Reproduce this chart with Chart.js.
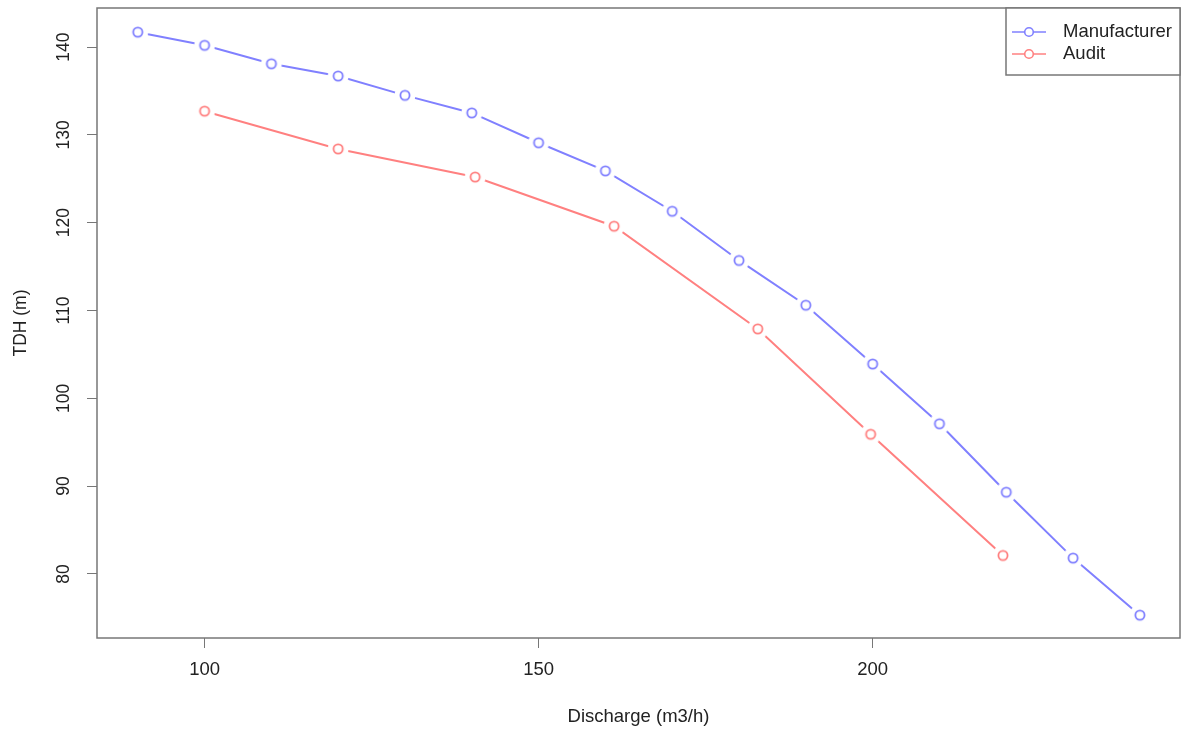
<!DOCTYPE html>
<html><head><meta charset="utf-8">
<script src="https://cdn.jsdelivr.net/npm/chart.js@4/dist/chart.umd.min.js"></script>
<style>html,body{margin:0;padding:0;background:#fff}#wrap{width:1182px;height:734px}</style>
</head><body><div id="wrap"><canvas id="c" width="1182" height="734"></canvas></div>
<script>
// ---- data ----
const manufacturerQ = [90, 100, 110, 120, 130, 140, 150, 160, 170, 180, 190, 200, 210, 220, 230, 240];
const manufacturerH = [141.7, 140.2, 138.1, 136.7, 134.5, 132.5, 129.1, 125.9, 121.3, 115.7, 110.6, 103.9, 97.1, 89.3, 81.8, 75.3];
const auditQ = [100, 120, 140.5, 161.3, 182.8, 199.7, 219.5];
const auditH = [132.7, 128.4, 125.2, 119.6, 107.9, 95.9, 82.1];
const seriesNames = ['Manufacturer', 'Audit'];
const xTicks = [100, 150, 200];
const yTicks = [80, 90, 100, 110, 120, 130, 140];
const xTitle = 'Discharge (m3/h)';
const yTitle = 'TDH (m)';

// ---- styles ----
const BLUE = '#8080ff';
const RED = '#ff8080';
const FONT = "'Liberation Sans', Arial, Helvetica, sans-serif";
const TXT = '#222';
const HSIZE = 18.5;
const VSIZE = 17.5;

function makeMarker(color) {
  const c = document.createElement('canvas');
  c.width = 26; c.height = 26;
  const g = c.getContext('2d');
  g.fillStyle = '#ffffff';
  g.beginPath(); g.arc(13, 13, 10.5, 0, Math.PI * 2); g.fill();
  g.strokeStyle = color; g.lineWidth = 1.8;
  g.beginPath(); g.arc(13, 13, 4.6, 0, Math.PI * 2); g.stroke();
  return c;
}

const toXY = (xs, ys) => xs.map((x, i) => ({ x: x, y: ys[i] }));

const boxPlugin = {
  id: 'plotBox',
  afterDraw(chart) {
    const { ctx, chartArea: a } = chart;
    ctx.save();
    ctx.strokeStyle = '#777';
    ctx.lineWidth = 1.5;
    ctx.strokeRect(a.left, a.top, a.right - a.left, a.bottom - a.top);
    // legend box (top-right inside the plot)
    const w = 174, h = 67;
    const L = a.right - w, T = a.top;
    ctx.fillStyle = '#fff';
    ctx.fillRect(L, T, w, h);
    ctx.strokeRect(L, T, w, h);
    const colors = [BLUE, RED];
    chart.data.datasets.forEach((ds, i) => {
      const y = T + 24 + i * 22;
      ctx.strokeStyle = colors[i];
      ctx.lineWidth = 1.6;
      ctx.beginPath(); ctx.moveTo(L + 6, y); ctx.lineTo(L + 40, y); ctx.stroke();
      ctx.fillStyle = '#fff';
      ctx.beginPath(); ctx.arc(L + 23, y, 4.3, 0, Math.PI * 2); ctx.fill(); ctx.stroke();
      ctx.fillStyle = TXT;
      ctx.font = HSIZE + 'px ' + FONT;
      ctx.textBaseline = 'middle';
      ctx.textAlign = 'left';
      ctx.fillText(ds.label, L + 57, y);
    });
    ctx.restore();
  }
};

new Chart(document.getElementById('c'), {
  type: 'line',
  data: {
    datasets: [
      { label: seriesNames[0], data: toXY(manufacturerQ, manufacturerH), borderColor: BLUE, borderWidth: 2,
        pointStyle: makeMarker(BLUE), pointRadius: 4.5, fill: false, tension: 0 },
      { label: seriesNames[1], data: toXY(auditQ, auditH), borderColor: RED, borderWidth: 2,
        pointStyle: makeMarker(RED), pointRadius: 4.5, fill: false, tension: 0 }
    ]
  },
  options: {
    responsive: false,
    animation: false,
    events: [],
    layout: { autoPadding: false, padding: { top: 8, right: 2, left: 0, bottom: 0 } },
    plugins: { legend: { display: false }, tooltip: { enabled: false } },
    scales: {
      x: {
        type: 'linear', min: 83.9, max: 246,
        afterBuildTicks: s => { s.ticks = xTicks.map(v => ({ value: v })); },
        afterFit: s => { s.height = 96; s.paddingLeft = 0; s.paddingRight = 0; },
        grid: { drawOnChartArea: false, drawTicks: true, tickLength: 10, color: '#777', lineWidth: 1 },
        border: { display: false },
        ticks: { padding: 11, color: TXT, font: { family: FONT, size: HSIZE }, maxRotation: 0, autoSkip: false },
        title: { display: true, text: xTitle, color: TXT, font: { family: FONT, size: HSIZE }, padding: { top: 0, bottom: 6 } }
      },
      y: {
        type: 'linear', min: 72.7, max: 144.45,
        afterBuildTicks: s => { s.ticks = yTicks.map(v => ({ value: v })); },
        afterFit: s => { s.width = 97; s.paddingTop = 0; s.paddingBottom = 0; },
        grid: { drawOnChartArea: false, drawTicks: true, tickLength: 10, color: '#777', lineWidth: 1 },
        border: { display: false },
        ticks: { padding: 8, color: TXT, font: { family: FONT, size: VSIZE }, minRotation: 90, maxRotation: 90, crossAlign: 'center', autoSkip: false },
        title: { display: true, text: yTitle, color: TXT, font: { family: FONT, size: VSIZE }, padding: { top: 11, bottom: 0 } }
      }
    }
  },
  plugins: [boxPlugin]
});
</script>
</body></html>
